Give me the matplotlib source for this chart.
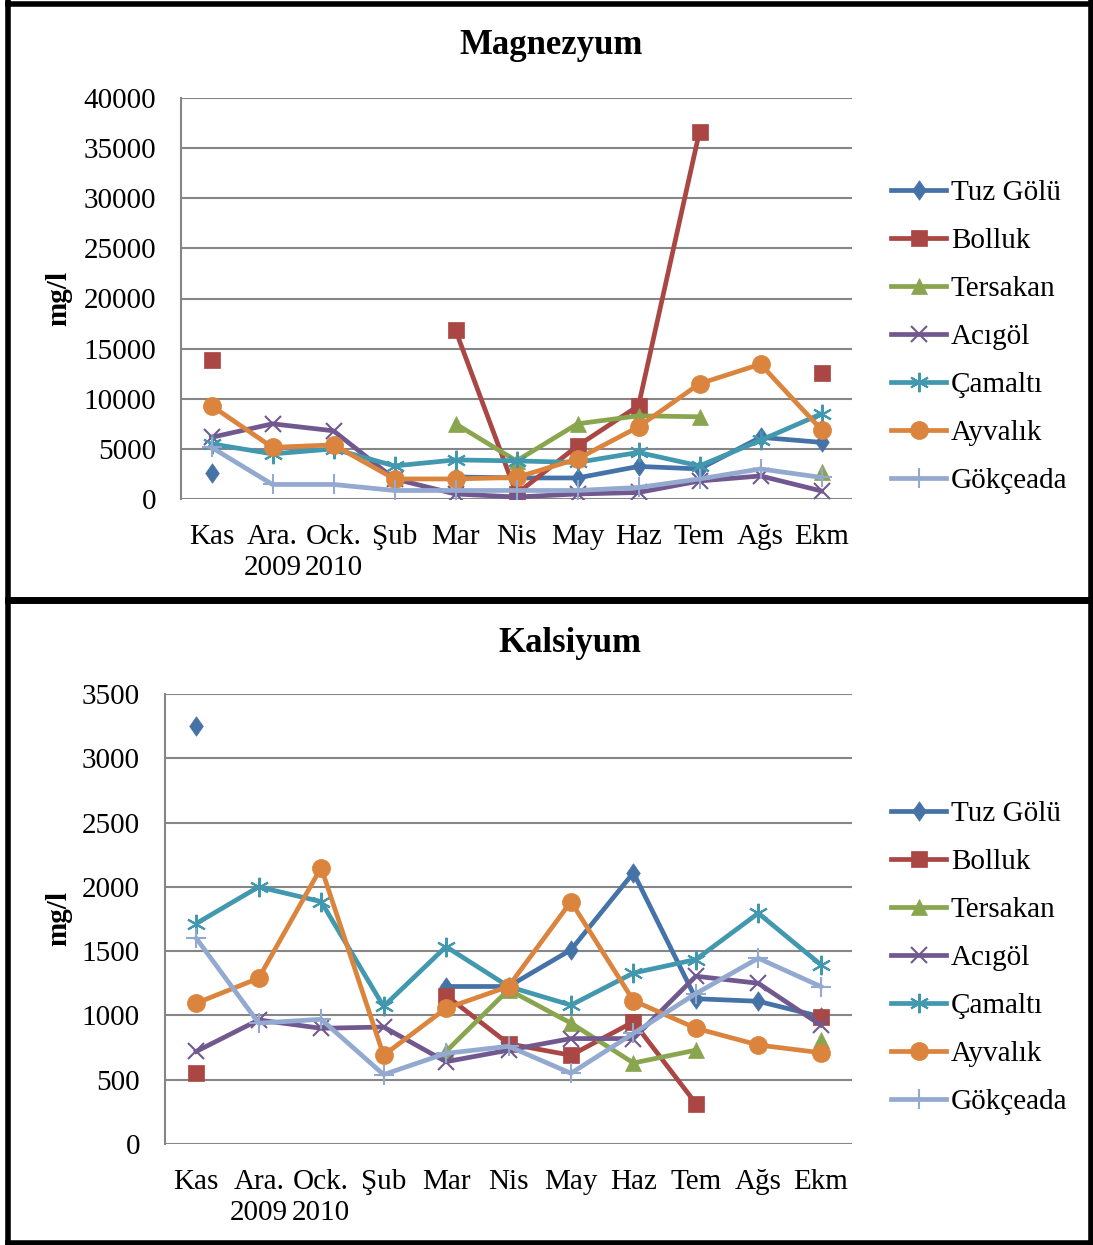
import numpy as np
import matplotlib.pyplot as plt
from matplotlib.lines import Line2D

plt.rcParams['font.family'] = ['Liberation Serif', 'DejaVu Serif']

months = ['Kas', 'Ara.\n2009', 'Ock.\n2010', 'Şub', 'Mar', 'Nis', 'May', 'Haz', 'Tem', 'Ağs', 'Ekm']
stations = ['Tuz Gölü', 'Bolluk', 'Tersakan', 'Acıgöl', 'Çamaltı', 'Ayvalık', 'Gökçeada']
nan = np.nan

# Magnezyum (mg/l)
mg_tuz = [2560, nan, nan, nan, 2200, 2100, 2100, 3250, 3000, 6150, 5650]
mg_bolluk = [13900, nan, nan, nan, 16850, 500, 5300, 9300, 36650, nan, 12550]
mg_tersakan = [nan, nan, nan, nan, 7500, 3800, 7500, 8300, 8200, nan, 2650]
mg_acigol = [6150, 7500, 6800, 2000, 500, 200, 500, 650, 1800, 2300, 800]
mg_camalti = [5500, 4500, 5000, 3300, 3900, 3800, 3650, 4650, 3300, 5850, 8500]
mg_ayvalik = [9300, 5150, 5400, 2000, 2000, 2150, 4000, 7200, 11500, 13450, 6900]
mg_gokceada = [5150, 1450, 1450, 850, 850, 850, 850, 1150, 2000, 3000, 2150]

# Kalsiyum (mg/l)
ca_tuz = [3253, nan, nan, nan, 1225, 1225, 1510, 2110, 1130, 1110, 990]
ca_bolluk = [550, nan, nan, nan, 1155, 780, 690, 950, 315, nan, 990]
ca_tersakan = [nan, nan, nan, nan, 720, 1200, 940, 630, 730, nan, 810]
ca_acigol = [720, 965, 900, 910, 640, 730, 820, 820, 1305, 1250, 925]
ca_camalti = [1715, 2000, 1885, 1070, 1535, 1225, 1080, 1330, 1435, 1795, 1395]
ca_ayvalik = [1095, 1290, 2150, 690, 1055, 1225, 1885, 1115, 900, 770, 710]
ca_gokceada = [1600, 940, 970, 540, 705, 760, 550, 860, 1170, 1445, 1225]

colors = ['#4572A7', '#AA4643', '#89A54E', '#71588F', '#4198AF', '#DB843D', '#93A9CF']
diamond = [(0, 1), (0.7, 0), (0, -1), (-0.7, 0), (0, 1)]
markers = [diamond, 's', '^', 'x', (6, 2, 0), 'o', '+']
msizes = [14, 12, 12, 12, 14, 13, 14]
thin = [False, False, False, True, True, False, True]

W, H = 1093, 1245
fig = plt.figure(figsize=(W / 100, H / 100), dpi=100)


def draw(ax, series, title, ymax, ystep, title_xy, leg_top):
    x = np.arange(len(months))
    for i, s in enumerate(series):
        ax.plot(x, s, color=colors[i], lw=3.4, marker=markers[i], markersize=msizes[i],
                markeredgewidth=1.5 if thin[i] else 0.5,
                markeredgecolor=colors[i], label=stations[i], zorder=3)
    ax.set_xlim(-0.5, len(months) - 0.5)
    ax.set_ylim(0, ymax)
    ax.set_yticks(np.arange(0, ymax + 1, ystep))
    ax.set_xticks(x)
    ax.set_xticklabels(months, fontsize=21, linespacing=1.25)
    ax.tick_params(axis='y', labelsize=21, length=0, pad=18)
    ax.tick_params(axis='x', length=0, pad=18)
    ax.grid(axis='y', color='#868686', lw=1.5)
    ax.set_axisbelow(True)
    for sp in ['top', 'right', 'bottom']:
        ax.spines[sp].set_visible(False)
    ax.spines['left'].set_color('#868686')
    ax.spines['left'].set_linewidth(1.5)
    ax.set_ylabel('mg/l', fontsize=21, fontweight='bold')
    fig.text(title_xy[0] / W, 1 - title_xy[1] / H, title,
             fontsize=25, fontweight='bold', ha='center', va='center')
    ax.legend(loc='upper left', bbox_to_anchor=(891 / W, 1 - leg_top / H),
              bbox_transform=fig.transFigure, frameon=False,
              fontsize=21, handlelength=1.9, labelspacing=0.74, handletextpad=0.15,
              borderaxespad=0, borderpad=0)


ax1 = fig.add_axes([181 / W, 1 - 499 / H, 671 / W, 401 / H])
draw(ax1, [mg_tuz, mg_bolluk, mg_tersakan, mg_acigol, mg_camalti, mg_ayvalik, mg_gokceada],
     'Magnezyum', 40000, 5000, (551, 46), 180)
ax1.yaxis.set_label_coords((72 - 181) / 671, 0.5)

ax2 = fig.add_axes([165 / W, 1 - 1144 / H, 687 / W, 450 / H])
draw(ax2, [ca_tuz, ca_bolluk, ca_tersakan, ca_acigol, ca_camalti, ca_ayvalik, ca_gokceada],
     'Kalsiyum', 3500, 500, (570, 643), 801)
ax2.yaxis.set_label_coords((72 - 165) / 687, 0.5)


# panel borders
def fline(x0, y0, x1, y1, lw=4):
    fig.add_artist(Line2D([x0 / W, x1 / W], [1 - y0 / H, 1 - y1 / H], color='black', lw=lw))


fline(8, 4, 1091, 4)
fline(8, 600, 1091, 600, lw=5)
fline(8, 1243, 1091, 1243)
fline(8, 2, 8, 1245)
fline(1091, 2, 1091, 1245)

fig.savefig('out.png', dpi=100)
